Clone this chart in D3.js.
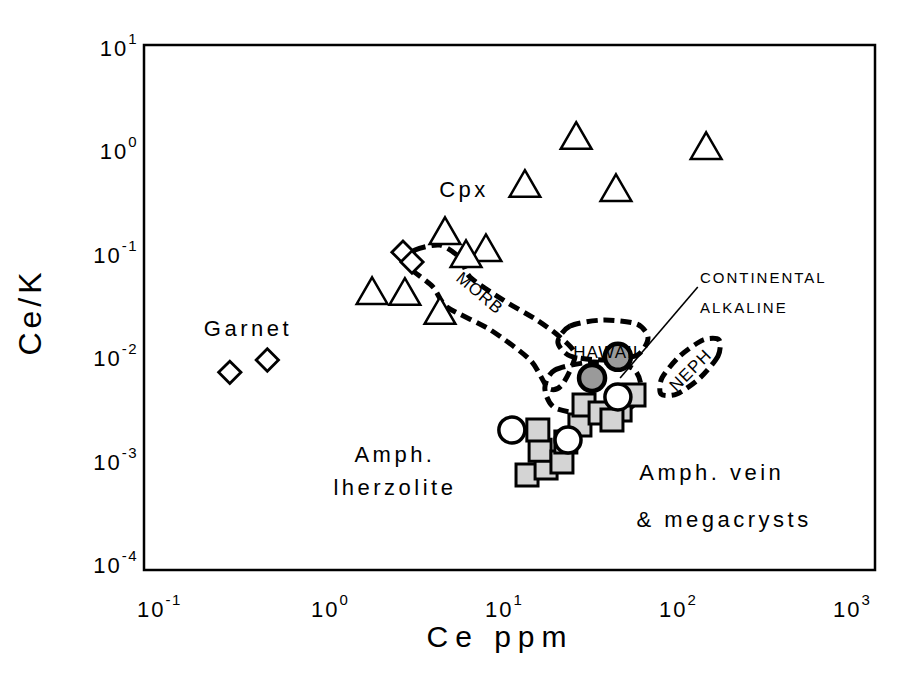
<!DOCTYPE html>
<html>
<head>
<meta charset="utf-8">
<script src="https://cdn.jsdelivr.net/npm/d3@7"></script>
<style>
  body { margin: 0; background: #fff; }
  text { font-family: "Liberation Sans", Arial, Helvetica, sans-serif; fill: #000; }
</style>
</head>
<body>
<svg id="chart" width="898" height="677"></svg>
<script>
// ---- data (Ce ppm, Ce/K) ----
var xExponents = [-1, 0, 1, 2, 3];
var yExponents = [1, 0, -1, -2, -3, -4];

// Cpx (triangles)
var cpxCe    = [27.4, 153, 13.9, 46.4, 4.83, 8.3, 6.38, 1.84, 2.84, 4.52];
var cpxRatio = [1.29, 1.03, 0.443, 0.404, 0.155, 0.106, 0.093, 0.0408, 0.040, 0.0262];

// Garnet + MORB-end diamonds
var garnetCe    = [0.28, 0.46, 2.77, 3.12];
var garnetRatio = [0.0073, 0.0096, 0.106, 0.0851];

// Amph. vein & megacrysts (shaded squares)
var veinCe    = [14.3, 18.4, 17.0, 16.5, 22.7, 23.9, 28.8, 30.4, 37.6, 49.0, 58.9, 44.0];
var veinRatio = [0.000741, 0.000867, 0.00129, 0.00202, 0.00099, 0.00155, 0.00226, 0.00352, 0.00295, 0.00316, 0.00441, 0.00252];

// Amph. lherzolite (open circles)
var lherzCe    = [11.7, 24.6, 47.6];
var lherzRatio = [0.00202, 0.00162, 0.00422];

// megacryst circles inside the Hawaii / continental fields (shaded)
var megaCe    = [33.8, 47.6];
var megaRatio = [0.00644, 0.0103];

// field outlines [Ce, Ce/K]
var morbField = [[2.84, 0.0851], [3.25, 0.111], [4.52, 0.124], [5.89, 0.0931], [6.72, 0.061],
  [10.4, 0.0366], [16.3, 0.0234], [22.1, 0.016], [27.0, 0.0107], [22.7, 0.00551],
  [18.9, 0.00515], [14.9, 0.00962], [8.8, 0.0188], [4.96, 0.0313], [4.12, 0.0489], [3.12, 0.0713]];
var hawaiiField = [[21.5, 0.01436], [25.3, 0.0205], [39.1, 0.0234], [61.3, 0.0214],
  [70.9, 0.01567], [61.3, 0.0107], [39.1, 0.00962], [25.3, 0.0105]];
var contAlkField = [[18.1, 0.00515], [20.7, 0.00769], [34.2, 0.00918], [57.4, 0.00803],
  [64.6, 0.00515], [55.8, 0.0033], [34.2, 0.00288], [20.7, 0.0033]];
var nephField = [[181.5, 0.0150], [179, 0.0105], [141, 0.00644], [104, 0.00451],
  [84.2, 0.00451], [85.3, 0.00644], [108, 0.0105], [147, 0.0150]];
var contAlkLeader = [[137, 0.0489], [49, 0.00644]];

var groupLabels = [
  { text: "Cpx", ce: 6.21, ratio: 0.362 },
  { text: "Garnet", ce: 0.356, ratio: 0.0164 },
  { text: "Amph.", ce: 2.49, ratio: 0.00099 },
  { text: "lherzolite", ce: 2.49, ratio: 0.000475 },
  { text: "Amph. vein", ce: 165, ratio: 0.000664 },
  { text: "& megacrysts", ce: 194, ratio: 0.000233 }
];
var fieldLabels = [
  { text: "MORB", ce: 7.67, ratio: 0.0428, angle: 40 },
  { text: "HAWAII", ce: 40.6, ratio: 0.0115, angle: 0 },
  { text: "NEPH", ce: 124, ratio: 0.00769, angle: -45 }
];
var contAlkLabel = [
  { text: "CONTINENTAL", ce: 141, ratio: 0.0533 },
  { text: "ALKALINE", ce: 141, ratio: 0.0274 }
];

// ---- drawing ----
var svg = d3.select("#chart");

var x = d3.scaleLog().domain([0.1, 1000]).range([152, 848]);
var y = d3.scaleLog().domain([1e-4, 10]).range([565, 48]);

// frame
svg.append("rect")
  .attr("x", 144).attr("y", 45)
  .attr("width", 731).attr("height", 525)
  .attr("fill", "none").attr("stroke", "#000").attr("stroke-width", 2.5);

// x tick labels
var xl = svg.selectAll(".xlab").data(xExponents).enter()
  .append("text").attr("class", "xlab")
  .attr("x", function(d) { return x(Math.pow(10, d)) - 15; })
  .attr("y", 617)
  .style("font-size", "22px").style("letter-spacing", "2px");
xl.append("tspan").text("10");
xl.append("tspan").attr("dy", -12)
  .style("font-size", "15px").style("letter-spacing", "1.5px")
  .text(function(d) { return d < 0 ? "-" + (-d) : d; });

// y tick labels
var yl = svg.selectAll(".ylab").data(yExponents).enter()
  .append("text").attr("class", "ylab")
  .attr("x", 138)
  .attr("y", function(d) { return y(Math.pow(10, d)) + 8; })
  .attr("text-anchor", "end")
  .style("font-size", "22px").style("letter-spacing", "2px");
yl.append("tspan").text("10");
yl.append("tspan").attr("dy", -12)
  .style("font-size", "15px").style("letter-spacing", "1.5px")
  .text(function(d) { return d < 0 ? "-" + (-d) : d; });

// axis titles
svg.append("text")
  .attr("x", 500).attr("y", 647)
  .attr("text-anchor", "middle")
  .style("font-size", "30px").style("letter-spacing", "7px")
  .text("Ce ppm");
svg.append("text")
  .attr("transform", "translate(41,312) rotate(-90)")
  .attr("text-anchor", "middle")
  .style("font-size", "32px").style("letter-spacing", "4px")
  .text("Ce/K");

// fields
var fieldLine = d3.line()
  .x(function(d) { return x(d[0]); })
  .y(function(d) { return y(d[1]); })
  .curve(d3.curveCardinalClosed.tension(0.2));

[morbField, hawaiiField, contAlkField, nephField].forEach(function(f) {
  svg.append("path")
    .attr("d", fieldLine(f))
    .attr("fill", "none")
    .attr("stroke", "#000")
    .attr("stroke-width", 5)
    .attr("stroke-dasharray", "11,6");
});

svg.append("path")
  .attr("d", d3.line().x(function(d) { return x(d[0]); }).y(function(d) { return y(d[1]); })(contAlkLeader))
  .attr("stroke", "#000").attr("stroke-width", 1.6).attr("fill", "none");

function pts(xs, ys) {
  return xs.map(function(v, i) { return { ce: v, ratio: ys[i] }; });
}

// squares
svg.selectAll(".vein").data(pts(veinCe, veinRatio)).enter()
  .append("path").attr("class", "vein")
  .attr("d", d3.symbol().type(d3.symbolSquare).size(22 * 22))
  .attr("transform", function(d) { return "translate(" + x(d.ce) + "," + y(d.ratio) + ")"; })
  .attr("fill", "#d4d4d4").attr("stroke", "#000").attr("stroke-width", 3);

// shaded megacryst circles
svg.selectAll(".mega").data(pts(megaCe, megaRatio)).enter()
  .append("circle").attr("class", "mega")
  .attr("cx", function(d) { return x(d.ce); })
  .attr("cy", function(d) { return y(d.ratio); })
  .attr("r", 13)
  .attr("fill", "#9a9a9a").attr("stroke", "#000").attr("stroke-width", 4.5);

// circles
svg.selectAll(".lherz").data(pts(lherzCe, lherzRatio)).enter()
  .append("circle").attr("class", "lherz")
  .attr("cx", function(d) { return x(d.ce); })
  .attr("cy", function(d) { return y(d.ratio); })
  .attr("r", 13)
  .attr("fill", "#fff").attr("stroke", "#000").attr("stroke-width", 3.5);

// triangles
svg.selectAll(".cpx").data(pts(cpxCe, cpxRatio)).enter()
  .append("path").attr("class", "cpx")
  .attr("d", d3.symbol().type(d3.symbolTriangle).size(410))
  .attr("transform", function(d) { return "translate(" + x(d.ce) + "," + y(d.ratio) + ")"; })
  .attr("fill", "#fff").attr("stroke", "#000").attr("stroke-width", 2.5);

// diamonds
svg.selectAll(".gt").data(pts(garnetCe, garnetRatio)).enter()
  .append("path").attr("class", "gt")
  .attr("d", d3.symbol().type(d3.symbolSquare).size(250))
  .attr("transform", function(d) { return "translate(" + x(d.ce) + "," + y(d.ratio) + ") rotate(45)"; })
  .attr("fill", "#fff").attr("stroke", "#000").attr("stroke-width", 2.8);

// labels
svg.selectAll(".glab").data(groupLabels).enter()
  .append("text").attr("class", "glab")
  .attr("x", function(d) { return x(d.ce); })
  .attr("y", function(d) { return y(d.ratio); })
  .attr("text-anchor", "middle")
  .style("font-size", "22px").style("letter-spacing", "3.5px")
  .text(function(d) { return d.text; });

svg.selectAll(".flab").data(fieldLabels).enter()
  .append("text").attr("class", "flab")
  .attr("transform", function(d) { return "translate(" + x(d.ce) + "," + y(d.ratio) + ") rotate(" + d.angle + ")"; })
  .attr("text-anchor", "middle")
  .attr("dy", "0.35em")
  .style("font-size", "17px").style("letter-spacing", "1px")
  .text(function(d) { return d.text; });

svg.selectAll(".clab").data(contAlkLabel).enter()
  .append("text").attr("class", "clab")
  .attr("x", function(d) { return x(d.ce); })
  .attr("y", function(d) { return y(d.ratio); })
  .style("font-size", "15px").style("letter-spacing", "2px")
  .text(function(d) { return d.text; });
</script>
</body>
</html>
